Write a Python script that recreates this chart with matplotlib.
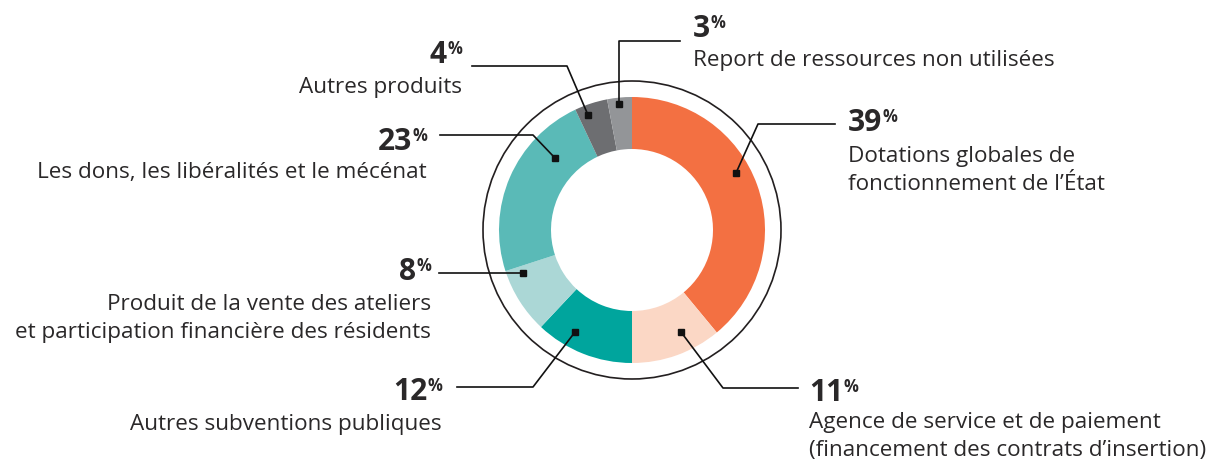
import matplotlib.pyplot as plt
from matplotlib.patches import Circle

plt.rcParams["font.family"] = ["Open Sans", "DejaVu Sans"]

# data, clockwise from 12 o'clock
labels = [
    "Dotations globales de\nfonctionnement de l\u2019\u00c9tat",
    "Agence de service et de paiement\n(financement des contrats d\u2019insertion)",
    "Autres subventions publiques",
    "Produit de la vente des ateliers\net participation financi\u00e8re des r\u00e9sidents",
    "Les dons, les lib\u00e9ralit\u00e9s et le m\u00e9c\u00e9nat",
    "Autres produits",
    "Report de ressources non utilis\u00e9es",
]
values = [39, 11, 12, 8, 23, 4, 3]
colors = ["#F37042", "#FBD7C5", "#00A59D", "#ABD7D6", "#5ABAB7", "#6D6E71", "#939598"]

TXT = "#2A2829"
W, H = 1213, 459
cx, cy, r_out, r_in = 632, 230, 133, 81

# leader layout in pixel coords (y down): polyline from marker, text anchor
# (side, x, number baseline, label first baseline)
leaders = [
    ([(736, 173), (758, 124), (835, 124)], "left", 848, 131, 162),
    ([(681, 332), (723, 388), (798, 388)], "left", 809, 401, 428),
    ([(575, 332), (533, 387), (457, 387)], "right", 442, 400, 430),
    ([(523, 273), (439, 273)], "right", 431, 280, 310),
    ([(555, 158), (533, 135), (440, 135)], "right", 427, 150, 178),
    ([(588, 115), (567, 66), (472, 66)], "right", 462, 63, 93),
    ([(619, 104), (619, 41), (680, 41)], "left", 693, 37, 66),
]

fig = plt.figure(figsize=(W / 100, H / 100), dpi=100)
ax = fig.add_axes([0, 0, 1, 1])

ax.pie(values, colors=colors, startangle=-90, counterclock=True,
       center=(cx, cy), radius=r_out,
       wedgeprops=dict(width=r_out - r_in, linewidth=0))
ax.add_patch(Circle((cx, cy), 149, fill=False, lw=1.2, ec="#231F20", zorder=3))

ax.set_xlim(0, W)
ax.set_ylim(H, 0)
ax.set_aspect("equal")
ax.axis("off")

fig.canvas.draw()
renderer = fig.canvas.get_renderer()

for (pts, side, tx, nb, lb), v, lab in zip(leaders, values, labels):
    xs = [p[0] for p in pts]
    ys = [p[1] for p in pts]
    ax.plot(xs, ys, color="#111111", lw=1.2, zorder=4)
    ax.plot(xs[0], ys[0], marker="s", ms=5, color="#111111", zorder=5)

    ctop = nb - 22
    if side == "left":
        num = ax.text(tx, nb, str(v), ha="left", va="baseline", fontsize=21.5,
                      fontweight="bold", color=TXT)
        w = num.get_window_extent(renderer).width
        ax.text(tx + w, ctop - 1, "%", ha="left", va="top", fontsize=12,
                fontweight="bold", color=TXT)
    else:
        pct = ax.text(tx, ctop - 1, "%", ha="right", va="top", fontsize=12,
                      fontweight="bold", color=TXT)
        w = pct.get_window_extent(renderer).width
        ax.text(tx - w, nb, str(v), ha="right", va="baseline", fontsize=21.5,
                fontweight="bold", color=TXT)

    for i, line in enumerate(lab.split("\n")):
        ax.text(tx, lb + i * 28, line, ha=side, va="baseline", fontsize=16.2,
                color=TXT)

fig.savefig("out.png", dpi=100)
